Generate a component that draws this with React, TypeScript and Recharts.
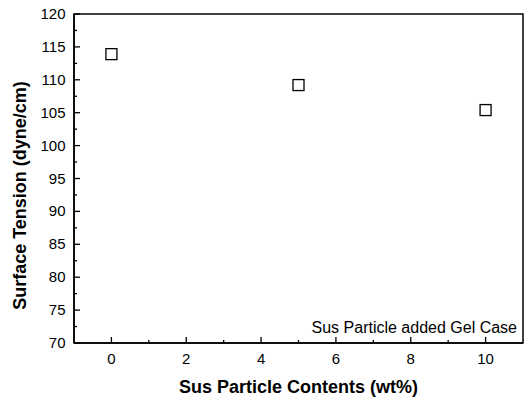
import React from 'react';
import { ScatterChart, Scatter, XAxis, YAxis, ReferenceArea } from 'recharts';

const contents = [0, 5, 10];
const tension = [113.9, 109.2, 105.4];
const xTicks = [0, 1, 2, 3, 4, 5, 6, 7, 8, 9, 10];
const yTicks = [70, 72.5, 75, 77.5, 80, 82.5, 85, 87.5, 90, 92.5, 95, 97.5, 100, 102.5, 105, 107.5, 110, 112.5, 115, 117.5, 120];
const xTitle = 'Sus Particle Contents (wt%)';
const yTitle = 'Surface Tension (dyne/cm)';
const note = 'Sus Particle added Gel Case';

const data = contents.map((c, i) => ({ x: c, y: tension[i] }));

const FONT = '"Liberation Sans", Arial, sans-serif';

const XTick = (props: any) => {
  const { x, y, payload } = props;
  const v = payload.value as number;
  const major = v % 2 === 0;
  return (
    <g>
      <line x1={x} y1={y} x2={x} y2={y - (major ? 6 : 3)} stroke="#000" strokeWidth={1.3} />
      {major && (
        <text x={x} y={y + 21} textAnchor="middle" fontSize={15} fontFamily={FONT} fill="#000">
          {v}
        </text>
      )}
    </g>
  );
};

const YTick = (props: any) => {
  const { x, y, payload } = props;
  const v = payload.value as number;
  const major = v % 5 === 0;
  return (
    <g>
      <line x1={x} y1={y} x2={x + (major ? 6 : 3)} y2={y} stroke="#000" strokeWidth={1.3} />
      {major && (
        <text x={x - 8.5} y={y + 5} textAnchor="end" fontSize={15} fontFamily={FONT} fill="#000">
          {v}
        </text>
      )}
    </g>
  );
};

const Square = (props: any) => {
  const { cx, cy } = props;
  return <rect x={cx - 5.5} y={cy - 5.5} width={11} height={11} fill="#fff" stroke="#000" strokeWidth={1.3} />;
};

export default function App() {
  return (
    <div style={{ position: 'absolute', left: 0, top: 0, background: '#fff' }}>
      <ScatterChart width={524} height={400} margin={{ top: 14, right: 1, left: 0, bottom: 0 }}>
        <XAxis
          type="number"
          dataKey="x"
          domain={[-1, 11]}
          ticks={xTicks}
          interval={0}
          height={57}
          tickSize={0}
          tickMargin={0}
          tickLine={false}
          axisLine={{ stroke: '#000', strokeWidth: 1.5 }}
          tick={<XTick />}
          label={{
            content: (p: any) => {
              const vb = p.viewBox;
              return (
                <text x={298.5} y={vb.y + 50} textAnchor="middle" fontSize={18} fontWeight="bold" fontFamily={FONT} fill="#000">
                  {xTitle}
                </text>
              );
            },
          }}
        />
        <YAxis
          type="number"
          dataKey="y"
          domain={[70, 120]}
          ticks={yTicks}
          interval={0}
          width={74}
          tickSize={0}
          tickMargin={0}
          tickLine={false}
          axisLine={{ stroke: '#000', strokeWidth: 1.5 }}
          tick={<YTick />}
          label={{
            content: (p: any) => {
              const vb = p.viewBox;
              const cx = vb.x + 26;
              const cy = 195.5;
              return (
                <text
                  x={cx}
                  y={cy}
                  transform={`rotate(-90 ${cx} ${cy})`}
                  textAnchor="middle"
                  fontSize={18}
                  fontWeight="bold"
                  fontFamily={FONT}
                  fill="#000"
                >
                  {yTitle}
                </text>
              );
            },
          }}
        />
        <ReferenceArea
          x1={-1}
          x2={11}
          y1={70}
          y2={120}
          fill="none"
          stroke="#000"
          strokeWidth={1.5}
          ifOverflow="extendDomain"
          label={{
            content: (p: any) => {
              const vb = p.viewBox;
              return (
                <text x={vb.x + vb.width - 6} y={vb.y + vb.height - 10} textAnchor="end" fontSize={16} fontFamily={FONT} fill="#000">
                  {note}
                </text>
              );
            },
          }}
        />
        <Scatter data={data} shape={<Square />} isAnimationActive={false} />
      </ScatterChart>
    </div>
  );
}
